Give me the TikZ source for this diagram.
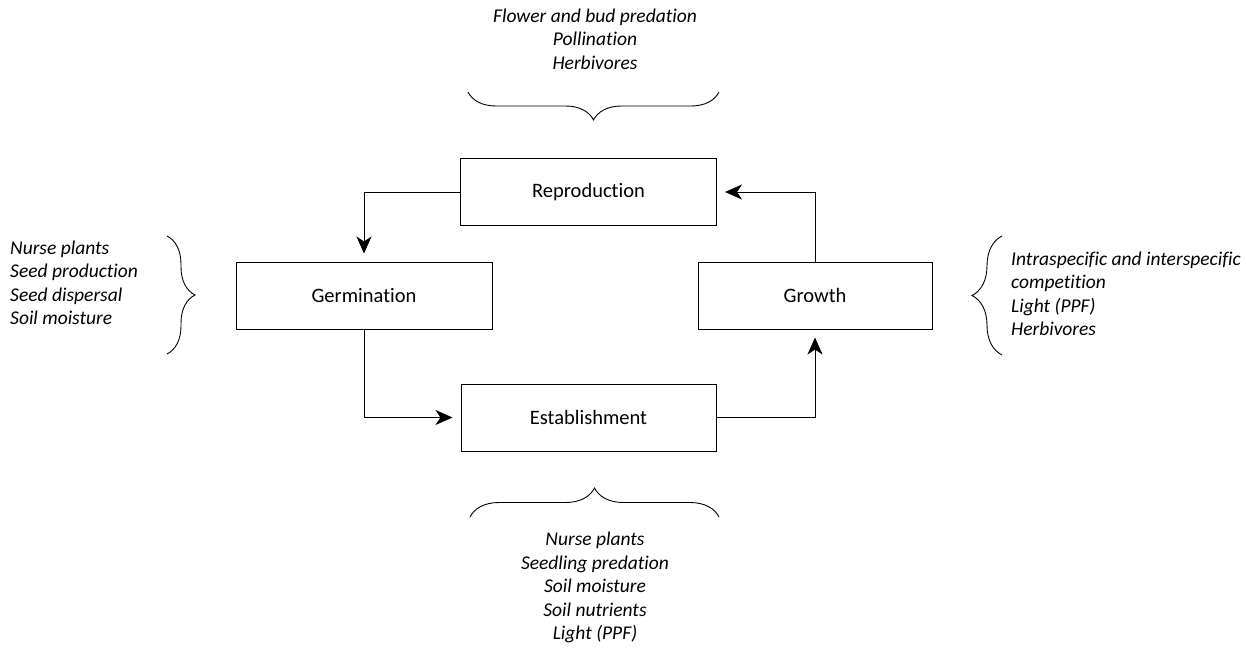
\documentclass[tikz,border=0pt]{standalone}
\usepackage{fontspec}
\setmainfont{Carlito}[Ligatures=NoCommon]
\usepackage{tikz}
\usetikzlibrary{arrows.meta,positioning,decorations.pathreplacing}

\tikzset{
  stage/.style={draw,line width=1pt,minimum width=256pt,minimum height=67pt,
                inner sep=0pt,font=\fontsize{20.5}{24}\selectfont},
  factors/.style={inner sep=0pt,font=\fontsize{19.5}{23.5}\selectfont\itshape},
  flow/.style={line width=1pt,-{Stealth[length=17pt,width=15pt,inset=5pt]},shorten >=8pt},
  curly/.style={line width=0.9pt,decorate,decoration={brace,amplitude=#1}}
}

\begin{document}
\begin{tikzpicture}[x=1pt,y=1pt]
      \useasboundingbox (0,0) rectangle (1246,-654);
      % stages of the cycle
      \node[stage] (repro) at (588.5,-192){Reproduction};
      \node[stage] (germ) at (364,-295.5){Germination};
      \node[stage,minimum width=234pt] (growth) at (815,-295.5){Growth};
      \node[stage,minimum width=255pt] (estab) at (588.5,-417.5){Establishment};
      \draw[flow](repro.west) -| (germ.north);
      \draw[flow](germ.south) |- (estab.west);
      \draw[flow](estab.east) -| (growth.south);
      \draw[flow](growth.north) |- (repro.east);
      % factors
      \node[factors,align=center] (ftop) at (595,-39){Flower and bud predation\\Pollination\\Herbivores};
      \node[factors,align=left,anchor=west] (fleft) at (10,-283){Nurse plants\\Seed production\\Seed dispersal\\Soil moisture};
      \node[factors,align=left,anchor=west] (fright) at (1011,-294){Intraspecific and interspecific\\competition\\Light (PPF)\\Herbivores};
      \node[factors,align=center] (fbot) at (595,-587.5){Nurse plants\\Seedling predation\\Soil moisture\\Soil nutrients\\Light (PPF)};
      % braces
      \coordinate (t1) at (719,-92); \coordinate (t2) at (468,-92);
      \coordinate (l1) at (167,-236); \coordinate (l2) at (167,-354);
      \coordinate (r1) at (1002,-355); \coordinate (r2) at (1002,-236);
      \coordinate (b1) at (470,-517); \coordinate (b2) at (719,-517);
      \draw[curly=28pt](t1)--(t2);
      \draw[curly=28pt](l1)--(l2);
      \draw[curly=30pt](r1)--(r2);
      \draw[curly=29pt](b1)--(b2);
    \end{tikzpicture}
\end{document}
